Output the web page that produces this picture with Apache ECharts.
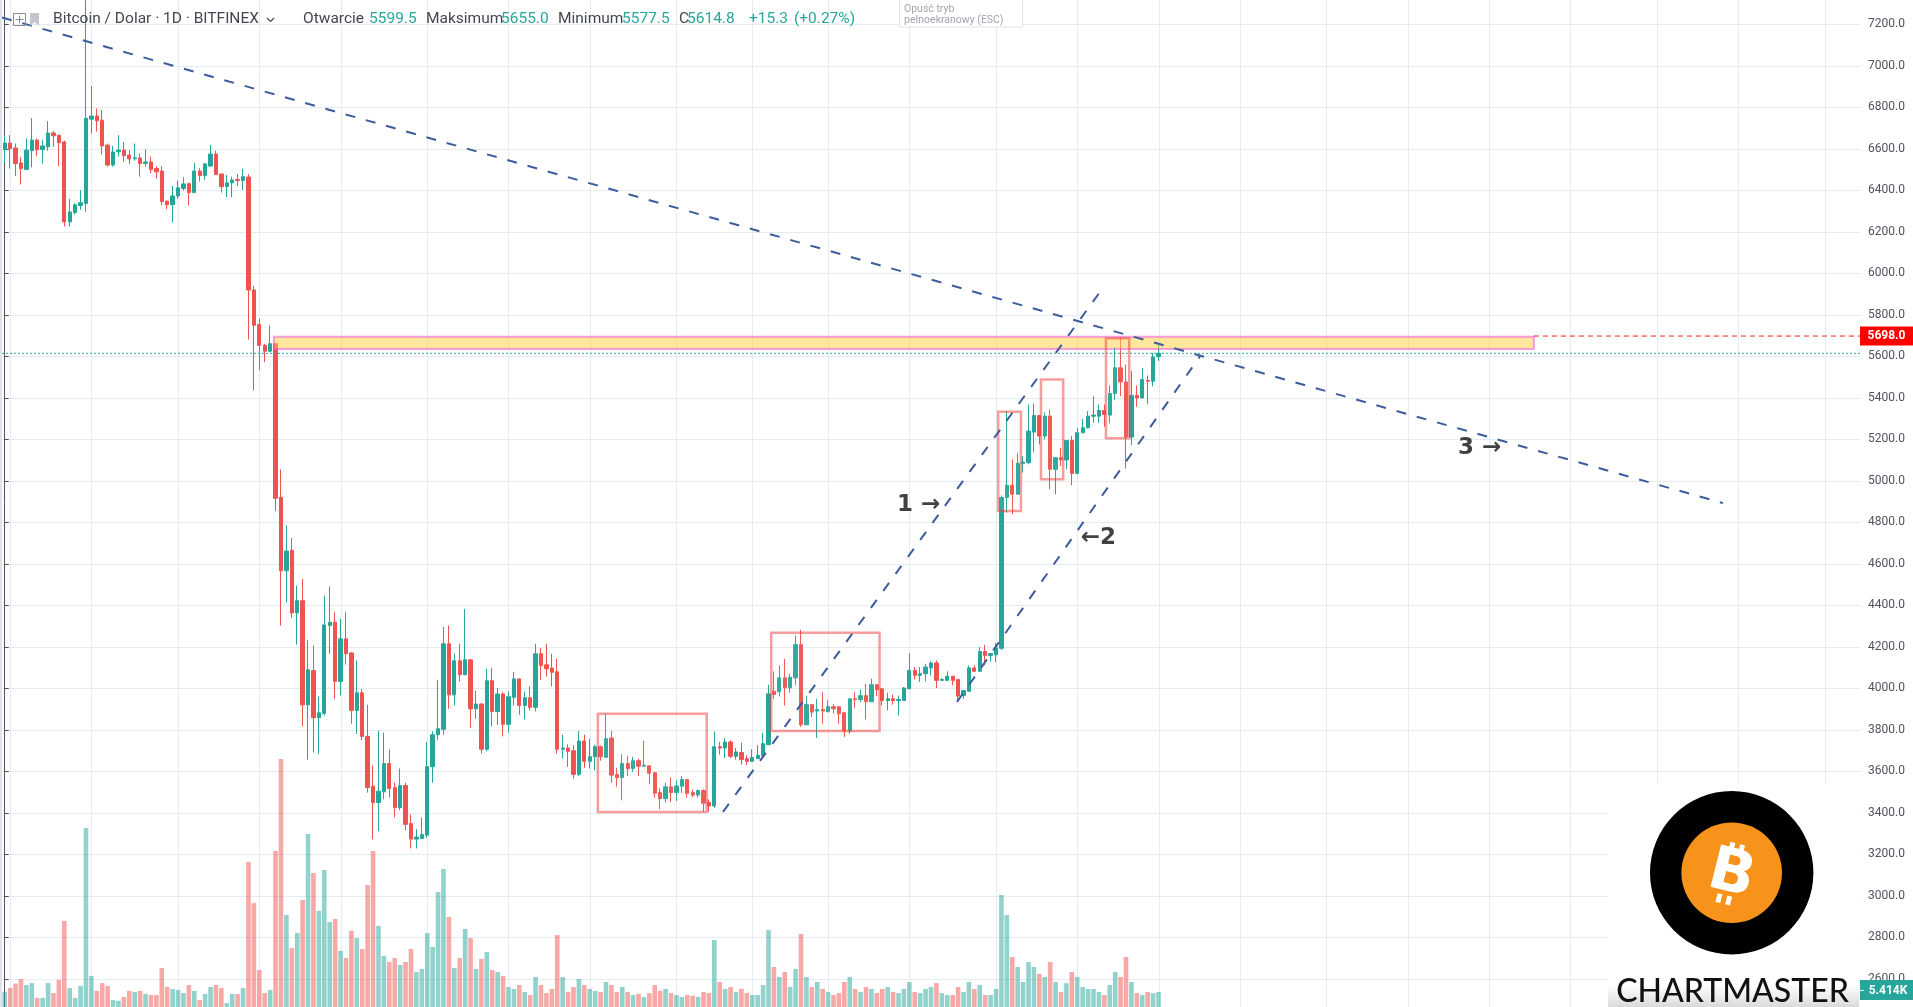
<!DOCTYPE html>
<html><head><meta charset="utf-8">
<script src="https://cdn.jsdelivr.net/npm/echarts@6/dist/echarts.min.js"></script>
<style>html,body{margin:0;padding:0;background:#fff;overflow:hidden}#c{width:1913px;height:1007px;}</style>
</head><body><div id="c"></div>
<script>
// ---------- data ----------
const START = Date.UTC(2018, 8, 30); // first candle: 2018-09-30
const N_DAYS = 343;                  // days spanned by the time axis (incl. empty future)

const open = [6596,6628,6604,6532,6501,6591,6642,6596,6610,6676,
6666,6633,6248,6293,6327,6336,6743,6758,6738,6618,
6522,6586,6594,6570,6552,6556,6530,6537,6505,6493,
6348,6331,6373,6409,6432,6389,6493,6471,6517,6575,
6479,6418,6436,6452,6447,6464,5920,5753,5653,5625,
5661,4921,4567,4666,4364,4423,3921,4086,3859,3880,
4303,4319,4034,4239,4171,3894,3979,3769,3529,3450,
3502,3638,3522,3426,3532,3349,3274,3277,3293,3623,
3777,3803,4215,3969,4133,4066,4138,3902,3925,3707,
4037,3889,3973,3827,3957,4046,3918,3955,3909,4167,
4114,4098,4080,3707,3713,3700,3586,3747,3649,3671,
3719,3668,3761,3585,3570,3638,3614,3652,3625,3627,
3594,3498,3469,3526,3498,3529,3561,3498,3486,3508,
3450,3434,3719,3713,3742,3673,3691,3662,3649,3662,
3675,3729,3987,3985,4051,4003,4051,4211,3825,3922,
3891,3899,3888,3912,3912,3883,3795,3950,3946,3965,
3936,4018,3998,3942,3950,3942,3942,3998,4087,4063,
4071,4099,4123,4039,4039,4059,4043,3966,3986,4099,
4083,4178,4159,4162,4194,4920,4979,4936,5085,5088,
5235,5315,5216,5312,5056,5112,5101,5195,5036,5232,
5256,5312,5312,5339,5317,5421,5545,5477,5211,5412,
5400,5484,5480,5599.5];

const close = [6628,6601,6529,6505,6594,6642,6596,6614,6676,6663,
6630,6248,6296,6330,6340,6747,6758,6735,6614,6522,
6585,6594,6567,6551,6557,6529,6537,6500,6489,6346,
6331,6373,6412,6431,6389,6493,6471,6527,6575,6476,
6418,6436,6450,6447,6466,5920,5750,5653,5625,5661,
4916,4567,4662,4364,4423,3921,4090,3859,3883,4306,
4319,4034,4239,4167,3894,3979,3769,3522,3450,3505,
3638,3518,3426,3532,3345,3274,3284,3296,3623,3777,
3806,4215,3969,4133,4066,4138,3902,3925,3707,4037,
3889,3973,3827,3960,4046,3918,3955,3909,4167,4110,
4095,4078,3707,3713,3697,3586,3747,3649,3671,3719,
3671,3758,3582,3570,3638,3614,3652,3625,3630,3591,
3495,3469,3526,3498,3530,3561,3495,3486,3508,3447,
3434,3719,3713,3742,3673,3694,3657,3649,3667,3678,
3734,3974,3971,4051,4003,4054,4211,3825,3922,3886,
3899,3891,3912,3902,3878,3795,3950,3946,3965,3936,
4018,3994,3942,3950,3942,3947,4002,4087,4063,4071,
4103,4123,4039,4043,4059,4039,3963,3990,4099,4083,
4178,4159,4168,4196,4920,4979,4936,5085,5091,5240,
5315,5216,5312,5056,5112,5101,5195,5036,5232,5256,
5312,5317,5339,5320,5421,5545,5477,5211,5412,5400,
5488,5480,5597,5614.8];

const low = [6533,6505,6469,6428,6498,6511,6565,6529,6591,6610,
6517,6226,6226,6283,6306,6296,6674,6683,6573,6515,
6514,6562,6538,6527,6543,6466,6514,6482,6456,6328,
6309,6245,6360,6399,6328,6389,6442,6450,6514,6476,
6389,6367,6367,6421,6402,5681,5437,5533,5572,5620,
4855,4303,4415,4340,4211,3817,3657,3691,3683,3870,
4167,3950,3966,4115,3830,3782,3750,3498,3274,3312,
3466,3474,3378,3413,3317,3229,3229,3277,3280,3546,
3753,3777,3902,3918,4034,4066,3811,3854,3686,3697,
3817,3825,3769,3787,3918,3873,3851,3894,3889,4042,
4058,4010,3686,3662,3622,3566,3577,3617,3614,3606,
3652,3668,3545,3526,3461,3577,3598,3577,3622,3538,
3473,3418,3450,3453,3457,3497,3473,3476,3474,3405,
3405,3425,3681,3665,3665,3657,3633,3630,3646,3662,
3665,3729,3950,3961,3918,3979,4015,3814,3825,3861,
3761,3830,3885,3880,3830,3766,3782,3906,3934,3851,
3936,3962,3918,3894,3922,3870,3942,3998,4043,4031,
4034,4063,4002,4035,4039,4015,3934,3950,3986,4079,
4079,4111,4130,4127,4185,4847,4839,4936,5040,5080,
5139,5176,5200,4960,4936,5072,5056,4979,5032,5230,
5253,5280,5280,5261,5277,5389,5408,5059,5173,5357,
5398,5371,5456,5577.5];

const high = [6666,6666,6626,6561,6650,6748,6650,6642,6734,6686,
6666,6640,6359,6338,6402,7500,6902,6795,6787,6625,
6614,6666,6633,6594,6626,6578,6597,6562,6517,6517,
6351,6421,6447,6463,6437,6533,6506,6533,6618,6591,
6479,6474,6466,6479,6503,6479,5940,5782,5661,5748,
5665,5056,4786,4724,4495,4527,4234,4207,3961,4447,
4492,4367,4335,4367,4175,4135,3998,3921,3630,3796,
3787,3705,3546,3614,3546,3393,3322,3378,3742,3793,
4042,4296,4303,4167,4215,4383,4140,3989,3928,4094,
4099,4003,3982,3985,4080,4048,3985,4011,4215,4195,
4215,4167,4143,3777,3731,3726,3795,3777,3758,3729,
3725,3878,3796,3618,3683,3675,3670,3662,3748,3630,
3596,3518,3546,3570,3558,3578,3563,3513,3513,3514,
3466,3793,3742,3761,3750,3713,3739,3678,3707,3726,
3785,4018,4082,4111,4143,4071,4255,4282,3965,3924,
3950,3982,3944,3925,3915,3885,3952,3982,3994,4022,
4047,4020,4000,3979,3970,3966,4007,4170,4103,4103,
4119,4130,4135,4050,4082,4060,4045,3992,4111,4111,
4199,4210,4170,4220,4930,5336,5104,5133,5120,5368,
5373,5317,5330,5344,5115,5160,5197,5216,5256,5299,
5336,5408,5368,5368,5460,5645,5689,5560,5529,5460,
5545,5508,5617,5655];

// volume in thousands of BTC
const volumeK = [5.5,6.9,8.4,10.1,7.9,8.6,3.3,3.3,8.6,5.0,
9.8,31.0,6.8,3.3,7.6,64.4,11.2,5.8,8.6,7.6,
2.5,2.2,3.6,5.8,5.4,5.8,4.7,4.3,4.3,14.0,
7.2,6.5,6.1,5.0,7.9,5.8,2.5,4.7,7.2,7.9,
6.8,1.4,4.7,4.7,6.8,52.2,37.4,13.3,5.0,6.1,
56.2,89.3,33.1,21.2,26.6,38.5,62.3,48.2,34.6,49.3,
30.6,31.7,20.2,17.6,27.4,24.8,20.9,43.9,56.2,29.2,
18.4,16.2,17.6,15.1,16.2,20.9,12.6,13.7,26.6,21.6,
41.4,49.7,32.4,14.0,17.6,28.1,24.8,13.7,17.3,19.8,
13.3,12.6,11.2,7.2,6.5,7.9,5.4,4.3,10.8,7.9,
5.0,6.5,25.9,10.8,5.4,7.2,10.1,7.9,6.5,5.8,
5.4,9.0,7.9,5.4,7.2,5.4,4.3,4.7,3.6,5.0,
7.9,5.8,6.5,5.0,4.3,3.6,4.3,4.0,3.6,5.4,
5.0,24.1,9.0,6.5,7.2,5.4,6.5,5.0,4.3,4.3,
7.9,27.7,14.4,10.8,12.6,7.2,13.7,26.3,10.8,7.2,
9.0,6.5,5.4,4.3,5.0,9.0,10.8,6.5,5.4,7.2,
6.5,5.0,6.5,7.2,5.4,5.0,6.5,9.0,5.4,5.0,
6.5,7.2,8.6,5.0,4.3,4.3,7.2,5.4,9.0,6.5,
7.9,4.3,4.3,6.5,40.3,33.1,18.0,14.4,9.0,16.2,
14.4,11.9,10.8,16.2,9.0,5.4,8.6,12.6,10.8,7.2,
6.5,6.5,5.4,4.3,7.9,12.6,10.8,18.0,9.0,5.0,
4.3,5.4,5.0,5.4];

// day indices (from START) of the vertical time grid lines
const gridDays = [1,16,32,47,62,78,93,108,124,138,152,167,183,198,213,228,244,259,274,289,305,320,336];

// drawings, in [day index, price]
const trendLines = [
  [[-0.5, 7233], [317.2, 4893]],
  [[132.6, 3405], [202.6, 5925]],
  [[175.8, 3935], [220.7, 5602]]
];
const boxes = [
  [109.5, 3878, 129.6, 3405],
  [141.5, 4268, 161.5, 3795],
  [183.4, 5333, 187.6, 4855],
  [191.3, 5489, 195.4, 5008],
  [203.3, 5687, 207.6, 5205]
];
const zone = [[49.7, 5695, 282.3, 5636]];
const notes = [[168.7, 4884, '1 →'], [201.9, 4723, '←2'], [272.3, 5160, '3 →']];
const lastClose = 5614.8;
const zoneLevel = 5698.0;
const zoneLineStart = 282.3;
const lastVolumeLabel = '5.414K';
const header = {
  title: 'Bitcoin / Dolar · 1D · BITFINEX',
  fields: [['Otwarcie', '5599.5'], ['Maksimum', '5655.0'], ['Minimum', '5577.5'], ['C', '5614.8']],
  change: '+15.3', changePct: '(+0.27%)'
};

// ---------- chart ----------
const categories = [];
for (let k = 0; k < N_DAYS; k++) categories.push(new Date(START + k * 86400000).toISOString().slice(0, 10));
const candles = open.map((o, k) => [o, close[k], low[k], high[k]]);
const UP = '#26a69a', DOWN = '#ef5350';
const volData = volumeK.map((v, k) => ({
  value: v,
  itemStyle: { color: close[k] >= open[k] ? 'rgba(38,166,154,0.5)' : 'rgba(239,83,80,0.5)' }
}));

const chart = echarts.init(document.getElementById('c'), null, { renderer: 'canvas' });
const LINE_BLUE = '#3d5c9b';
const FONT = 'Roboto, "Liberation Sans", sans-serif';

const option = {
  animation: false,
  backgroundColor: '#ffffff',
  grid: [
    { left: 2, right: 53, top: -17.2, bottom: -13.5, containLabel: false, outerBoundsMode: 'none' },
    { left: 2, right: 53, top: 0, bottom: 0, containLabel: false, outerBoundsMode: 'none' }
  ],
  xAxis: [
    { type: 'category', gridIndex: 0, data: categories, boundaryGap: true, position: 'bottom',
      axisLine: { show: false }, axisTick: { show: false }, axisLabel: { show: false }, splitLine: { show: false } },
    { type: 'category', gridIndex: 1, data: categories, boundaryGap: true,
      axisLine: { show: false }, axisTick: { show: false }, axisLabel: { show: false }, splitLine: { show: false } },
    { type: 'value', gridIndex: 0, min: -0.5, max: N_DAYS - 0.5, position: 'top', show: false }
  ],
  yAxis: [
    { type: 'value', gridIndex: 0, position: 'right', min: 2400, max: 7400, interval: 200,
      axisLine: { show: true, lineStyle: { color: '#50535e', width: 1 } },
      axisTick: { show: true, length: 4, lineStyle: { color: '#50535e' } },
      axisLabel: { color: '#50535e', fontSize: 12, fontFamily: FONT, margin: 8, formatter: v => v.toFixed(1) },
      splitLine: { show: true, lineStyle: { color: '#e4ebf1', width: 1 } } },
    { type: 'value', gridIndex: 1, min: 0, max: 362.5, show: false }
  ],
  series: [
    { type: 'custom', name: 'vgrid', xAxisIndex: 2, yAxisIndex: 0, z: 0, silent: true,
      data: gridDays.map(d => [d]),
      renderItem: (p, api) => {
        const a = api.coord([api.value(0), 7400]), b = api.coord([api.value(0), 2400]);
        const x = Math.round(a[0]) + 0.5;
        return { type: 'line', shape: { x1: x, y1: a[1], x2: x, y2: b[1] }, style: { stroke: '#e4ebf1', lineWidth: 1 } };
      } },
    { type: 'bar', name: 'volume', xAxisIndex: 1, yAxisIndex: 1, data: volData, barWidth: 4.6, z: 1, silent: true },
    { type: 'candlestick', name: 'BTCUSD', xAxisIndex: 0, yAxisIndex: 0, data: candles, barWidth: 3.8, z: 3,
      clip: true, silent: true,
      itemStyle: { color: UP, color0: DOWN, borderColor: UP, borderColor0: DOWN, borderWidth: 1 } },
    { type: 'custom', name: 'zone', xAxisIndex: 2, yAxisIndex: 0, z: 4, silent: true, data: zone,
      renderItem: (p, api) => {
        const a = api.coord([api.value(0), api.value(1)]), b = api.coord([api.value(2), api.value(3)]);
        return { type: 'rect', shape: { x: a[0], y: a[1], width: b[0] - a[0], height: b[1] - a[1] },
          style: { fill: 'rgba(255,205,60,0.5)', stroke: 'rgba(235,70,230,0.5)', lineWidth: 2 } };
      } },
    { type: 'custom', name: 'boxes', xAxisIndex: 2, yAxisIndex: 0, z: 4, silent: true, data: boxes,
      renderItem: (p, api) => {
        const a = api.coord([api.value(0), api.value(1)]), b = api.coord([api.value(2), api.value(3)]);
        return { type: 'rect', shape: { x: a[0], y: a[1], width: b[0] - a[0], height: b[1] - a[1] },
          style: { fill: 'rgba(255,235,225,0.06)', stroke: 'rgba(240,60,60,0.5)', lineWidth: 2.5 } };
      } },
    ...trendLines.map((ln, k) => ({
      type: 'line', name: 'trend' + k, xAxisIndex: 2, yAxisIndex: 0, z: 5, silent: true, data: ln,
      symbol: 'none', lineStyle: { color: LINE_BLUE, width: 2, type: [10, 11] }
    })),
    { type: 'line', name: 'lastClose', xAxisIndex: 2, yAxisIndex: 0, z: 5, silent: true,
      data: [[-0.5, lastClose], [N_DAYS - 0.5, lastClose]], symbol: 'none',
      lineStyle: { color: UP, width: 1, type: [2, 2] } },
    { type: 'line', name: 'zoneLine', xAxisIndex: 2, yAxisIndex: 0, z: 5, silent: true,
      data: [[zoneLineStart, zoneLevel], [N_DAYS - 0.5, zoneLevel]], symbol: 'none',
      lineStyle: { color: '#ff1a1a', width: 1, type: [5, 4] } },
    { type: 'scatter', name: 'notes', xAxisIndex: 2, yAxisIndex: 0, z: 6, silent: true,
      symbolSize: 1, itemStyle: { color: 'rgba(0,0,0,0)' },
      data: notes.map(n => ({ value: [n[0], n[1]], name: n[2] })),
      label: { show: true, position: 'inside', formatter: p => p.name, color: '#111',
        fontSize: 23, fontWeight: 'bold', fontFamily: '"DejaVu Sans", sans-serif' } }
  ]
};
chart.setOption(option);

// ---------- overlays (header, price tags, logo) ----------
const yZone = chart.convertToPixel({ yAxisIndex: 0 }, zoneLevel);
const g = [];
g.push({ type: 'rect', shape: { x: 0, y: 0, width: 2, height: 1007 }, style: { fill: '#e0e3eb' }, z: 50 });
g.push({ type: 'rect', shape: { x: 13.5, y: 13.5, width: 12, height: 12 }, style: { fill: 'none', stroke: '#8a8e99', lineWidth: 1 }, z: 60 });
g.push({ type: 'line', shape: { x1: 19.5, y1: 15.5, x2: 19.5, y2: 23.5 }, style: { stroke: '#8a8e99', lineWidth: 1 }, z: 60 });
g.push({ type: 'line', shape: { x1: 15.5, y1: 19.5, x2: 23.5, y2: 19.5 }, style: { stroke: '#8a8e99', lineWidth: 1 }, z: 60 });
g.push({ type: 'polygon', shape: { points: [[30, 13], [39, 13], [39, 26], [34.5, 22], [30, 26]] }, style: { fill: '#c3c6ce' }, z: 60 });
const hy = 19.5;
const txt = (x, s, fill, size) => ({ type: 'text', x: x, y: hy, z: 60, silent: true,
  style: { text: s, fill: fill, font: (size || 15.5) + 'px ' + FONT, verticalAlign: 'middle', align: 'left' } });
g.push(txt(53, header.title, '#434651'));
g.push({ type: 'polyline', shape: { points: [[267, 18], [270.5, 21.5], [274, 18]] }, style: { stroke: '#434651', lineWidth: 1.2, fill: 'none' }, z: 60 });
const fx = [[303, 369], [426, 501], [558, 622], [679, 687]];
header.fields.forEach((f, k) => { g.push(txt(fx[k][0], f[0], '#434651')); g.push(txt(fx[k][1], f[1], UP)); });
g.push(txt(749, header.change, UP));
g.push(txt(794, header.changePct, UP));
g.push({ type: 'rect', shape: { x: 899.5, y: -1, width: 123, height: 28 }, style: { fill: 'rgba(255,255,255,0.92)', stroke: '#e0e3eb', lineWidth: 1 }, z: 60 });
g.push({ type: 'text', x: 904, y: 9, z: 61, style: { text: 'Opuść tryb', fill: '#a3a6af', font: '10.5px ' + FONT, verticalAlign: 'middle' } });
g.push({ type: 'text', x: 904, y: 20.5, z: 61, style: { text: 'pełnoekranowy (ESC)', fill: '#a3a6af', font: '10.5px ' + FONT, verticalAlign: 'middle' } });
g.push({ type: 'rect', shape: { x: 1860, y: yZone - 9.5, width: 53, height: 19 }, style: { fill: '#ff0000' }, z: 60 });
g.push({ type: 'text', x: 1886.5, y: yZone, z: 61, style: { text: zoneLevel.toFixed(1), fill: '#fff', font: 'bold 12px ' + FONT, align: 'center', verticalAlign: 'middle' } });
g.push({ type: 'rect', shape: { x: 1860, y: 980, width: 53, height: 20 }, style: { fill: UP }, z: 60 });
g.push({ type: 'line', shape: { x1: 1860, y1: 990.5, x2: 1864, y2: 990.5 }, style: { stroke: '#fff', lineWidth: 1 }, z: 61 });
g.push({ type: 'text', x: 1888, y: 990.5, z: 61, style: { text: lastVolumeLabel, fill: '#fff', font: 'bold 12px ' + FONT, align: 'center', verticalAlign: 'middle' } });
g.push({ type: 'rect', shape: { x: 1608, y: 783, width: 251, height: 224 }, style: { fill: '#ffffff' }, z: 70 });
g.push({ type: 'rect', shape: { x: 1608, y: 984, width: 251, height: 23 },
  style: { fill: new echarts.graphic.LinearGradient(0, 0, 0, 1, [{ offset: 0, color: 'rgba(225,225,225,0)' }, { offset: 1, color: '#d9d9d9' }]) }, z: 71 });
g.push({ type: 'circle', shape: { cx: 1731.7, cy: 872.7, r: 81.7 }, style: { fill: '#000' }, z: 72 });
g.push({ type: 'circle', shape: { cx: 1731.7, cy: 872.7, r: 50.3 }, style: { fill: '#f7931a' }, z: 73 });
g.push({ type: 'group', x: 1731.7, y: 874, rotation: -0.245, z: 74, children: [
  { type: 'text', x: 0, y: 2, z: 74, style: { text: 'B', fill: '#fff', font: 'bold 60px "DejaVu Sans", sans-serif', align: 'center', verticalAlign: 'middle' } },
  { type: 'rect', z: 74, shape: { x: -9, y: -31, width: 5, height: 9 }, style: { fill: '#fff' } },
  { type: 'rect', z: 74, shape: { x: 1, y: -31, width: 5, height: 9 }, style: { fill: '#fff' } },
  { type: 'rect', z: 74, shape: { x: -9, y: 22, width: 5, height: 9 }, style: { fill: '#fff' } },
  { type: 'rect', z: 74, shape: { x: 1, y: 22, width: 5, height: 9 }, style: { fill: '#fff' } }
] });
g.push({ type: 'text', x: 1732.5, y: 992, z: 75, style: { text: 'CHARTMASTER', fill: '#111', font: '500 32px Lato, "Open Sans", sans-serif', align: 'center', verticalAlign: 'middle' } });
chart.setOption({ graphic: { elements: g } });
</script></body></html>
